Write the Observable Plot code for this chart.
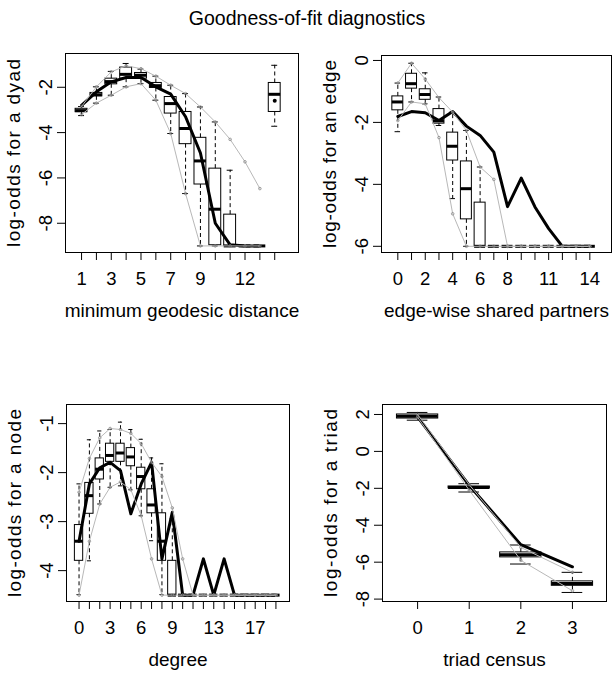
<!DOCTYPE html>
<html><head><meta charset="utf-8">
<script src="https://cdn.jsdelivr.net/npm/d3@7"></script>
<script src="https://cdn.jsdelivr.net/npm/@observablehq/plot@0.6"></script>
<style>
body{margin:0;background:#fff;}
#wrap{position:relative;width:614px;height:676px;overflow:hidden;font-family:"Liberation Sans",Arial,sans-serif;}
#title{position:absolute;left:0;top:7px;width:614px;text-align:center;font-size:19.5px;z-index:5;color:#000;}
.panel{position:absolute;}
</style></head><body>
<div id="wrap"><div id="title">Goodness-of-fit diagnostics</div></div>
<script>
// ---------- Panel 1: minimum geodesic distance (last position = unreachable) ----------
const geoPos = [1,2,3,4,5,6,7,8,9,10,11,12,13,14];
const geoTickLabels = [1,3,5,7,9,12];
const geoQ3 = [-2.95,-2.25,-1.62,-1.13,-1.37,-1.81,-2.43,-3.09,-4.23,-5.59,-7.62,-9,-9,-1.81];
const geoMed = [-3.03,-2.33,-1.75,-1.43,-1.47,-1.93,-2.72,-3.82,-5.25,-7.38,-9,-9,-9,-2.31];
const geoQ1 = [-3.1,-2.4,-1.87,-1.62,-1.62,-2.03,-3.16,-4.51,-6.29,-8.97,-9,-9,-9,-3.09];
const geoWhiskerHi = [-2.85,-1.98,-1.3,-0.95,-1.2,-1.51,-1.91,-2.28,-2.87,-3.53,-5.66,-9,-9,-1.03];
const geoWhiskerLo = [-3.25,-2.7,-2.35,-1.98,-1.84,-2.57,-4.04,-6.69,-9,-9,-9,-9,-9,-3.72];
const geoLinePos = [1,2,3,4,5,6,7,8,9,10,11,12,13];
const geoObs = [-2.8,-2.2,-1.76,-1.57,-1.57,-1.98,-2.3,-3.3,-4.9,-8.0,-8.95,-9,-9];
const geoObsInfPos = [14];
const geoObsInf = [-2.6];
const geoLow = [-3.2,-2.7,-2.35,-1.98,-1.84,-2.57,-4.04,-6.69,-9,-9,-9,-9,-9];
const geoHigh = [-2.85,-1.98,-1.32,-1.05,-1.18,-1.51,-1.91,-2.28,-2.87,-3.53,-4.3,-5.29,-6.47];
const geoYTicks = [-2,-4,-6,-8];

// ---------- Panel 2: edge-wise shared partners ----------
const espPos = [0,1,2,3,4,5,6,7,8,9,10,11,12,13,14];
const espTickLabels = [0,2,4,6,8,11,14];
const espQ3 = [-1.16,-0.43,-0.93,-1.57,-2.33,-3.26,-4.59,-6,-6,-6,-6,-6,-6,-6,-6];
const espMed = [-1.34,-0.75,-1.1,-1.95,-2.77,-4.14,-6,-6,-6,-6,-6,-6,-6,-6,-6];
const espQ1 = [-1.61,-0.91,-1.27,-2.04,-3.23,-5.13,-6,-6,-6,-6,-6,-6,-6,-6,-6];
const espWhiskerHi = [-0.73,-0.09,-0.4,-1.18,-1.67,-2.26,-3.44,-6,-6,-6,-6,-6,-6,-6,-6];
const espWhiskerLo = [-2.3,-1.34,-1.4,-2.1,-4.46,-6,-6,-6,-6,-6,-6,-6,-6,-6,-6];
const espObs = [-1.81,-1.65,-1.69,-1.94,-1.65,-2.12,-2.42,-2.96,-4.72,-3.8,-4.73,-5.43,-6,-6,-6];
const espLow = [-1.94,-1.34,-1.4,-2.49,-4.95,-6,-6,-6,-6,-6,-6,-6,-6,-6,-6];
const espHigh = [-0.73,-0.09,-0.6,-1.2,-1.67,-2.26,-3.44,-3.84,-6,-6,-6,-6,-6,-6,-6];
const espYTicks = [0,-2,-4,-6];

// ---------- Panel 3: degree ----------
const degPos = [0,1,2,3,4,5,6,7,8,9,10,11,12,13,14,15,16,17,18,19];
const degTickLabels = [0,3,6,9,13,17];
const degQ3 = [-3.07,-2.21,-1.71,-1.41,-1.41,-1.5,-1.9,-2.34,-2.83,-3.8,-4.5,-4.5,-4.5,-4.5,-4.5,-4.5,-4.5,-4.5,-4.5,-4.5];
const degMed = [-3.4,-2.47,-1.93,-1.65,-1.6,-1.68,-2.08,-2.66,-3.4,-4.5,-4.5,-4.5,-4.5,-4.5,-4.5,-4.5,-4.5,-4.5,-4.5,-4.5];
const degQ1 = [-3.8,-2.84,-2.14,-1.78,-1.78,-1.87,-2.34,-2.83,-3.8,-4.5,-4.5,-4.5,-4.5,-4.5,-4.5,-4.5,-4.5,-4.5,-4.5,-4.5];
const degWhiskerHi = [-2.23,-1.33,-1.15,-1.12,-0.97,-1.12,-1.32,-1.7,-1.82,-2.94,-4.5,-4.5,-4.5,-4.5,-4.5,-4.5,-4.5,-4.5,-4.5,-4.5];
const degWhiskerLo = [-4.49,-3.8,-2.64,-2.3,-2.27,-2.35,-2.88,-3.39,-4.49,-4.5,-4.5,-4.5,-4.5,-4.5,-4.5,-4.5,-4.5,-4.5,-4.5,-4.5];
const degObs = [-3.4,-2.23,-1.9,-1.79,-1.96,-2.84,-2.23,-1.79,-3.76,-2.81,-4.5,-4.5,-3.76,-4.5,-3.76,-4.5,-4.5,-4.5,-4.5,-4.5];
const degLow = [-4.5,-3.4,-2.64,-2.3,-2.19,-2.35,-2.88,-3.76,-4.5,-4.5,-4.5,-4.5,-4.5,-4.5,-4.5,-4.5,-4.5,-4.5,-4.5,-4.5];
const degHigh = [-2.4,-1.71,-1.29,-1.1,-1.12,-1.2,-1.41,-1.79,-2.08,-2.72,-3.76,-4.5,-4.5,-4.5,-4.5,-4.5,-4.5,-4.5,-4.5,-4.5];
const degYTicks = [-1,-2,-3,-4];

// ---------- Panel 4: triad census ----------
const triPos = [0,1,2,3];
const triTickLabels = [0,1,2,3];
const triQ3 = [2.0,-1.9,-5.47,-7.04];
const triMed = [1.9,-1.95,-5.6,-7.15];
const triQ1 = [1.78,-2.0,-5.74,-7.28];
const triWhiskerHi = [2.11,-1.75,-5.07,-6.55];
const triWhiskerLo = [1.69,-2.2,-6.1,-7.64];
const triObs = [1.87,-1.84,-5.05,-6.25];
const triLow = [1.85,-2.1,-5.9,-7.55];
const triHigh = [2.0,-1.8,-5.2,-6.55];
const triYTicks = [2,0,-2,-4,-6,-8];

const FONT = "Liberation Sans, Arial, sans-serif";

function makePanel(cfg) {
  const rows = cfg.pos.map((x, i) => ({x, q1: cfg.q1[i], med: cfg.med[i], q3: cfg.q3[i], lo: cfg.wlo[i], hi: cfg.whi[i]}));
  const obs = cfg.linePos.map((x, i) => ({x, y: cfg.obs[i]}));
  const gLo = cfg.linePos.map((x, i) => ({x, y: cfg.low[i]}));
  const gHi = cfg.linePos.map((x, i) => ({x, y: cfg.high[i]}));
  const extra = cfg.extraPos ? cfg.extraPos.map((x, i) => ({x, y: cfg.extraVal[i]})) : [];
  const half = 0.4, cap = 0.2;
  const fs = 18.5;
  const plot = Plot.plot({
    width: 307, height: 338,
    marginLeft: cfg.m[0], marginRight: cfg.m[1], marginTop: cfg.m[2], marginBottom: cfg.m[3],
    x: {domain: cfg.xDomain},
    y: {domain: cfg.yDomain},
    style: {background: "transparent", fontFamily: FONT, fontSize: "18px", color: "black"},
    marks: [
      Plot.axisX({ticks: cfg.pos, tickSize: 8, tickFormat: () => "", stroke: "black", label: null}),
      Plot.axisY({ticks: cfg.yTicks, tickSize: 8, tickFormat: () => "", stroke: "black", label: null}),
      Plot.text(cfg.xLabels, {x: d => d, frameAnchor: "bottom", dy: 27, text: d => String(d), fontSize: fs, textAnchor: "middle", lineAnchor: "middle"}),
      Plot.text(cfg.yTicks, {y: d => d, frameAnchor: "left", dx: -19, rotate: -90, text: d => String(d), fontSize: fs, textAnchor: "middle", lineAnchor: "middle"}),
      Plot.text([cfg.xTitle], {frameAnchor: "bottom", dy: 58, text: d => d, fontSize: 19, textAnchor: "middle", lineAnchor: "middle"}),
      Plot.text([cfg.yTitle], {frameAnchor: "left", dx: -51.5, rotate: -90, text: d => d, fontSize: 19, textAnchor: "middle", lineAnchor: "middle"}),
      Plot.ruleX(rows, {x: "x", y1: "q3", y2: "hi", stroke: "black", strokeDasharray: "4,3"}),
      Plot.ruleX(rows, {x: "x", y1: "q1", y2: "lo", stroke: "black", strokeDasharray: "4,3"}),
      Plot.ruleY(rows, {y: "hi", x1: d => d.x - cap, x2: d => d.x + cap, stroke: "black"}),
      Plot.ruleY(rows, {y: "lo", x1: d => d.x - cap, x2: d => d.x + cap, stroke: "black"}),
      Plot.rect(rows, {x1: d => d.x - half, x2: d => d.x + half, y1: "q1", y2: "q3", stroke: "black", fill: "none"}),
      Plot.ruleY(rows, {y: "med", x1: d => d.x - half, x2: d => d.x + half, stroke: "black", strokeWidth: 3, strokeLinecap: "butt"}),
      Plot.line(obs, {x: "x", y: "y", stroke: "black", strokeWidth: 3}),
      Plot.dot(extra, {x: "x", y: "y", r: 2, fill: "black"}),
      Plot.line(gLo, {x: "x", y: "y", stroke: "#b8b8b8", strokeWidth: 1}),
      Plot.dot(gLo, {x: "x", y: "y", r: 1.3, stroke: "#888", strokeWidth: 0.8}),
      Plot.line(gHi, {x: "x", y: "y", stroke: "#b8b8b8", strokeWidth: 1}),
      Plot.dot(gHi, {x: "x", y: "y", r: 1.3, stroke: "#888", strokeWidth: 0.8}),
      Plot.frame({stroke: "black", strokeWidth: 1})
    ]
  });
  // stretch the y-axis title to the length it has in the reference
  d3.select(plot).selectAll("text").filter(function() { return this.textContent === cfg.yTitle; })
    .attr("textLength", 188).attr("lengthAdjust", "spacing");
  const div = document.createElement("div");
  div.className = "panel";
  div.style.left = cfg.left + "px";
  div.style.top = cfg.top + "px";
  div.appendChild(plot);
  document.getElementById("wrap").appendChild(div);
}

makePanel({left: 0, top: 0, m: [65, 9, 53, 86], xDomain: [-0.08, 15.6], yDomain: [-9.29, -0.51],
  pos: geoPos, xLabels: geoTickLabels, yTicks: geoYTicks, q1: geoQ1, med: geoMed, q3: geoQ3, wlo: geoWhiskerLo, whi: geoWhiskerHi,
  linePos: geoLinePos, obs: geoObs, low: geoLow, high: geoHigh, extraPos: geoObsInfPos, extraVal: geoObsInf,
  xTitle: "minimum geodesic distance", yTitle: "log-odds for a dyad"});

makePanel({left: 307, top: 0, m: [74, 3, 55, 86], xDomain: [-1.19, 15.58], yDomain: [-6.2, 0.16],
  pos: espPos, xLabels: espTickLabels, yTicks: espYTicks, q1: espQ1, med: espMed, q3: espQ3, wlo: espWhiskerLo, whi: espWhiskerHi,
  linePos: espPos, obs: espObs, low: espLow, high: espHigh,
  xTitle: "edge-wise shared partners", yTitle: "log-odds for an edge"});

makePanel({left: 0, top: 338, m: [66, 18, 66, 75], xDomain: [-1.21, 20.31], yDomain: [-4.63, -0.61],
  pos: degPos, xLabels: degTickLabels, yTicks: degYTicks, q1: degQ1, med: degMed, q3: degQ3, wlo: degWhiskerLo, whi: degWhiskerHi,
  linePos: degPos, obs: degObs, low: degLow, high: degHigh,
  xTitle: "degree", yTitle: "log-odds for a node"});

makePanel({left: 307, top: 338, m: [75, 8, 66, 75], xDomain: [-0.68, 3.66], yDomain: [-8.13, 2.54],
  pos: triPos, xLabels: triTickLabels, yTicks: triYTicks, q1: triQ1, med: triMed, q3: triQ3, wlo: triWhiskerLo, whi: triWhiskerHi,
  linePos: triPos, obs: triObs, low: triLow, high: triHigh,
  xTitle: "triad census", yTitle: "log-odds for a triad"});
</script>
</body></html>
